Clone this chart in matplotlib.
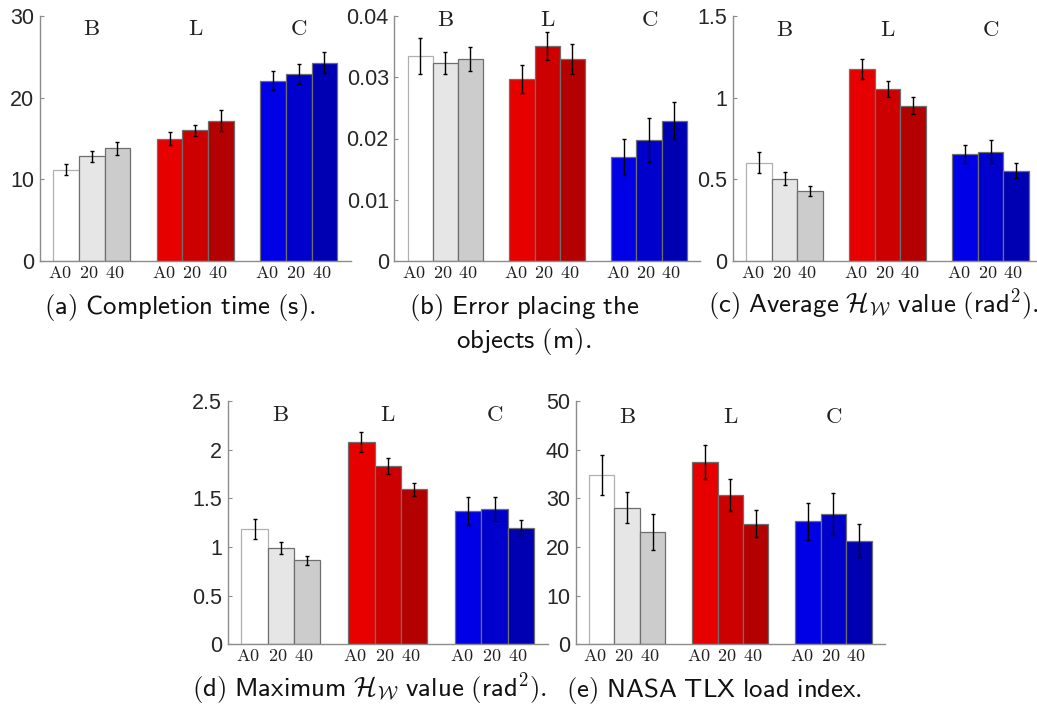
import matplotlib
matplotlib.use("Agg")
import matplotlib.pyplot as plt
from matplotlib.ticker import FuncFormatter

plt.rcParams['mathtext.fontset'] = 'cm'

groups = ['B', 'L', 'C']
conds = ['A0', '20', '40']
colors = [['#ffffff', '#e6e6e6', '#cccccc'],
          ['#e60000', '#cc0000', '#b30000'],
          ['#0000e6', '#0000cc', '#0000b3']]

# (a) completion time
time_mean = [[11.2, 12.8, 13.8], [15.0, 16.0, 17.2], [22.1, 22.9, 24.3]]
time_err = [[0.65, 0.65, 0.77], [0.82, 0.69, 1.27], [1.14, 1.26, 1.27]]
# (b) placing error
err_mean = [[0.0335, 0.0323, 0.0330], [0.0297, 0.0351, 0.0330], [0.0170, 0.0198, 0.0229]]
err_err = [[0.0029, 0.0018, 0.0019], [0.0023, 0.0023, 0.0024], [0.0029, 0.0036, 0.0030]]
# (c) average H_W
avg_mean = [[0.603, 0.503, 0.429], [1.175, 1.052, 0.952], [0.656, 0.670, 0.552]]
avg_err = [[0.067, 0.039, 0.033], [0.059, 0.049, 0.055], [0.057, 0.069, 0.045]]
# (d) maximum H_W
max_mean = [[1.180, 0.985, 0.862], [2.079, 1.833, 1.594], [1.371, 1.388, 1.200]]
max_err = [[0.103, 0.062, 0.048], [0.106, 0.085, 0.068], [0.144, 0.123, 0.082]]
# (e) NASA TLX
tlx_mean = [[34.75, 28.04, 22.98], [37.55, 30.71, 24.76], [25.24, 26.81, 21.27]]
tlx_err = [[4.17, 3.2, 3.7], [3.5, 3.35, 2.74], [3.76, 4.38, 3.35]]

W, H = 1037.0, 707.0
bw = 0.247


def sf(s):
    return r'\mathsf{' + s.replace(' ', r'\ ') + '}'


def panel(box, mean, err, ymax, yticks, lab_y):
    l, t, r, b = box
    ax = fig.add_axes([l / W, 1 - b / H, (r - l) / W, (b - t) / H])
    for g in range(3):
        for i in range(3):
            x = g + 1 + (i - 1) * bw
            ec = '#b0b0b0' if colors[g][i] == '#ffffff' else '#6e6e6e'
            ax.bar(x, mean[g][i], width=bw, color=colors[g][i], edgecolor=ec,
                   linewidth=0.9, zorder=2)
            ax.errorbar(x, mean[g][i], yerr=err[g][i], color='black', lw=1,
                        capsize=1.5, capthick=1, zorder=3)
            dx = -0.06 if i == 0 else -0.03
            ax.text(x + dx, -0.012, r'$\mathrm{' + conds[i] + '}$',
                    transform=ax.get_xaxis_transform(), ha='center', va='top',
                    fontsize=13, color='#202020')
        ax.text(g + 1, lab_y, r'$\mathrm{' + groups[g] + '}$',
                transform=ax.get_xaxis_transform(), ha='center', va='center',
                fontsize=16.5, color='#202020')
    ax.set_xlim(0.5, 3.5)
    ax.set_ylim(0, ymax)
    ax.set_yticks(yticks)
    ax.yaxis.set_major_formatter(FuncFormatter(lambda v, p: '%g' % v))
    ax.set_xticks([])
    for s in ['top', 'right']:
        ax.spines[s].set_visible(False)
    for s in ['left', 'bottom']:
        ax.spines[s].set_color('#8c8c8c')
        ax.spines[s].set_linewidth(1)
    ax.tick_params(axis='y', direction='in', length=3, color='#8c8c8c',
                   labelsize=15.5, labelcolor='#262626', pad=4)
    for lbl in ax.get_yticklabels():
        lbl.set_fontfamily('Liberation Sans')
    ax.set_facecolor('none')
    return ax


fig = plt.figure(figsize=(10.37, 7.07), dpi=100)

panel((40, 16, 350.5, 261), time_mean, time_err, 30, [0, 10, 20, 30], 0.947)
panel((394.4, 16, 700, 261), err_mean, err_err, 0.04,
      [0, 0.01, 0.02, 0.03, 0.04], 0.984)
panel((733, 16, 1042, 261), avg_mean, avg_err, 1.5, [0, 0.5, 1, 1.5], 0.943)
panel((227.5, 401, 548, 644.3), max_mean, max_err, 2.5,
      [0, 0.5, 1, 1.5, 2, 2.5], 0.944)
panel((575.5, 401, 885, 644.3), tlx_mean, tlx_err, 50,
      [0, 10, 20, 30, 40, 50], 0.937)

hw = r'\mathcal{H}_{\mathcal{W}}'
rad = sf('(rad') + r'^{' + sf('2') + '}' + sf(').')
cap = dict(ha='center', va='baseline', fontsize=19.3, color='#111111')
fig.text(179.5 / W, 1 - 314 / H, '$' + sf('(a) Completion time (s).') + '$', **cap)
fig.text(524 / W, 1 - 314 / H, '$' + sf('(b) Error placing the') + '$', **cap)
fig.text(524 / W, 1 - 348 / H, '$' + sf('objects (m).') + '$', **cap)
fig.text(873.5 / W, 1 - 313 / H,
         '$' + sf('(c) Average ') + hw + sf(' value ') + rad + '$', **cap)
fig.text(369 / W, 1 - 697 / H,
         '$' + sf('(d) Maximum ') + hw + sf(' value ') + rad + '$', **cap)
fig.text(714.5 / W, 1 - 697 / H, '$' + sf('(e) NASA TLX load index.') + '$', **cap)

fig.savefig('out.png', dpi=100)
